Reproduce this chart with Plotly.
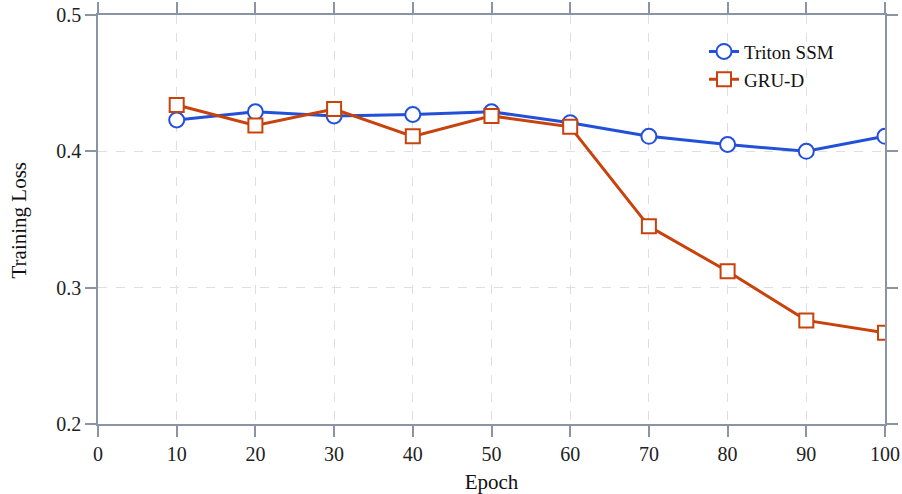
import plotly.graph_objects as go

epochs = [10, 20, 30, 40, 50, 60, 70, 80, 90, 100]
triton_ssm = [0.423, 0.429, 0.426, 0.427, 0.429, 0.421, 0.411, 0.405, 0.400, 0.411]
gru_d = [0.434, 0.419, 0.431, 0.411, 0.426, 0.418, 0.345, 0.312, 0.276, 0.267]

x_ticks = [0, 10, 20, 30, 40, 50, 60, 70, 80, 90, 100]
y_ticks = [0.2, 0.3, 0.4, 0.5]
y_tick_labels = ["0.2", "0.3", "0.4", "0.5"]

blue = "#2250d9"
orange = "#c8420c"
axis_col = "#8b94a5"
grid_col = "#dcdfe5"
font_family = "Liberation Serif"

fig = go.Figure()
fig.add_trace(go.Scatter(
    x=epochs, y=triton_ssm, name="Triton SSM", mode="lines+markers",
    line=dict(color=blue, width=3),
    marker=dict(symbol="circle", size=15, color="white", line=dict(color=blue, width=2)),
))
fig.add_trace(go.Scatter(
    x=epochs, y=gru_d, name="GRU-D", mode="lines+markers",
    line=dict(color=orange, width=3),
    marker=dict(symbol="square", size=14, color="white", line=dict(color=orange, width=2)),
))

axis_common = dict(
    showline=True, linecolor=axis_col, linewidth=1.5, mirror="allticks",
    ticks="outside", ticklen=11, tickcolor=axis_col, tickwidth=1.5,
    showgrid=True, gridcolor=grid_col, griddash="dash", gridwidth=1,
    zeroline=False, automargin=False, ticklabeloverflow="allow",
    tickfont=dict(family=font_family, size=20, color="#222222"),
)

fig.update_xaxes(
    range=[0, 100], tickvals=x_ticks, ticktext=[str(t) for t in x_ticks],
    title=dict(text="Epoch", font=dict(family=font_family, size=21, color="#111111"), standoff=15),
    **axis_common,
)
fig.update_yaxes(
    range=[0.2, 0.5], tickvals=y_ticks, ticktext=y_tick_labels,
    **axis_common,
)

fig.add_annotation(
    text="Training Loss", xref="paper", yref="paper",
    x=-0.1004, y=0.5, xanchor="center", yanchor="middle",
    textangle=-90, showarrow=False,
    font=dict(family=font_family, size=21, color="#111111"),
)

fig.update_layout(
    width=902, height=494,
    margin=dict(l=98, r=17, t=15, b=70),
    plot_bgcolor="white", paper_bgcolor="white",
    font=dict(family=font_family),
    legend=dict(
        x=0.77, y=0.957, xanchor="left", yanchor="top",
        bgcolor="rgba(0,0,0,0)", borderwidth=0,
        font=dict(family=font_family, size=19, color="#111111"),
        tracegroupgap=0,
    ),
)

fig.write_html(
    "out.html",
    config={"displayModeBar": False},
    post_script="document.body.style.margin='0';document.body.style.overflow='hidden';",
)
